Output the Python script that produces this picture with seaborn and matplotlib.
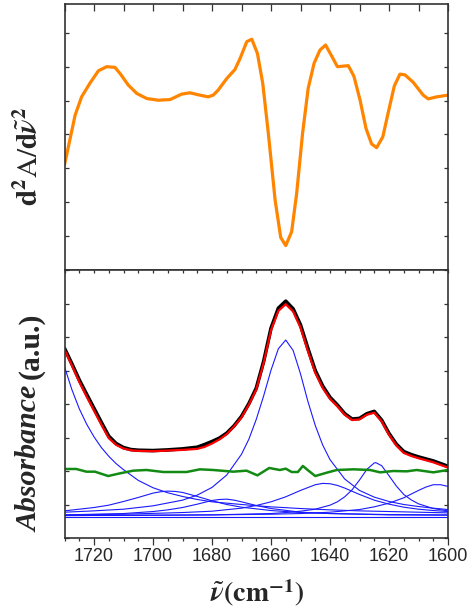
import numpy as np
import pandas as pd
import matplotlib
matplotlib.use("Agg")
import matplotlib.pyplot as plt
import seaborn as sns
from matplotlib.ticker import MultipleLocator, NullFormatter

# ---------------- data ----------------
# second derivative (top panel)
d2_wn = [1730, 1726.4, 1724.2, 1721.4, 1718.5, 1715.7, 1712.9, 1711.0, 1708.4, 1705.5,
         1702.1, 1698.2, 1694.2, 1690.3, 1687.5, 1684.1, 1681.3, 1679.6, 1677.9, 1675.0,
         1672.2, 1670.5, 1668.2, 1666.5, 1664.6, 1662.8, 1660.9, 1658.6, 1656.7, 1655.0,
         1653.0, 1651.3, 1649.3, 1647.4, 1645.4, 1643.4, 1641.5, 1639.4, 1637.5, 1633.8,
         1631.9, 1629.8, 1627.8, 1625.9, 1624.2, 1622.1, 1620.2, 1618.2, 1616.3, 1614.6,
         1611.8, 1608.4, 1606.7, 1603.8, 1600.0]
d2_val = [3.10, 4.57, 5.11, 5.51, 5.88, 6.00, 5.98, 5.78, 5.46, 5.21,
          5.06, 5.01, 5.03, 5.19, 5.23, 5.16, 5.11, 5.16, 5.31, 5.65,
          5.92, 6.24, 6.74, 6.81, 6.39, 5.51, 4.03, 2.06, 0.96, 0.72,
          1.13, 2.26, 4.03, 5.36, 6.10, 6.49, 6.64, 6.31, 6.00, 6.03,
          5.72, 5.01, 4.18, 3.72, 3.61, 3.93, 4.67, 5.43, 5.78, 5.76,
          5.54, 5.16, 5.05, 5.11, 5.16]

# measured absorbance (black) and fit (red)
abs_wn = [1730, 1727.5, 1725, 1722.5, 1720, 1717.5, 1715, 1712.5, 1710, 1707.5,
          1705, 1700, 1695, 1690, 1685, 1682.5, 1680, 1677.5, 1675, 1672.5,
          1670, 1667.5, 1665, 1662.5, 1660, 1657.5, 1655, 1652.5, 1650, 1647.5,
          1645, 1642.5, 1640, 1637.5, 1635, 1632.5, 1630, 1627.5, 1625, 1622.5,
          1620, 1617.5, 1615, 1612.5, 1610, 1605, 1600]
fit_val = [5.62, 5.15, 4.66, 4.22, 3.80, 3.38, 2.98, 2.78, 2.67, 2.62,
           2.60, 2.59, 2.61, 2.63, 2.66, 2.72, 2.82, 2.94, 3.10, 3.33,
           3.60, 3.98, 4.43, 5.22, 6.20, 6.78, 6.98, 6.76, 6.28, 5.58,
           4.93, 4.48, 4.15, 3.93, 3.68, 3.52, 3.54, 3.68, 3.74, 3.48,
           3.08, 2.76, 2.54, 2.45, 2.38, 2.26, 2.10]
meas_val = [5.66, 5.20, 4.72, 4.29, 3.87, 3.45, 3.04, 2.82, 2.70, 2.64,
            2.62, 2.61, 2.63, 2.66, 2.71, 2.79, 2.88, 2.98, 3.13, 3.35,
            3.63, 4.01, 4.47, 5.27, 6.26, 6.86, 7.07, 6.84, 6.36, 5.66,
            5.00, 4.54, 4.20, 3.97, 3.71, 3.55, 3.57, 3.71, 3.78, 3.52,
            3.12, 2.80, 2.58, 2.49, 2.42, 2.30, 2.14]

# residual / baseline (green)
res_wn = [1730, 1726, 1722.6, 1719.7, 1715.2, 1711.2, 1706.7, 1702.2, 1696.5, 1688.6,
          1684.1, 1679.6, 1672.8, 1668.3, 1664.6, 1660.6, 1657.0, 1655.0, 1653.0, 1650.9,
          1649.2, 1647.3, 1645.0, 1641.1, 1637.7, 1632.0, 1626.4, 1623.0, 1618.5, 1614.0,
          1610.6, 1605.0, 1600]
res_val = [2.06, 2.06, 1.98, 1.98, 1.85, 1.93, 2.01, 2.03, 1.97, 1.97,
           2.05, 2.03, 1.98, 2.01, 1.87, 2.09, 2.03, 2.07, 1.97, 1.97,
           2.15, 2.01, 1.85, 1.95, 2.03, 2.05, 2.03, 1.96, 2.00, 1.99,
           2.03, 1.96, 2.03]

# fitted component bands (blue)
b1_wn = [1730, 1727.5, 1725, 1722.5, 1720, 1717.5, 1715, 1712.5, 1710, 1705, 1700, 1695,
         1690, 1685, 1680, 1670, 1660, 1650, 1640, 1630, 1620, 1610, 1600]
b1_val = [5.11, 4.43, 3.86, 3.40, 3.02, 2.70, 2.44, 2.22, 2.04, 1.72, 1.50, 1.35,
          1.24, 1.15, 1.08, 1.00, 0.93, 0.88, 0.84, 0.81, 0.79, 0.77, 0.75]

b2_wn = [1730, 1720, 1715, 1710, 1705, 1700, 1697.5, 1695, 1692.5, 1690, 1685, 1680,
         1675, 1670, 1660, 1650, 1640, 1620, 1600]
b2_val = [0.81, 0.91, 0.98, 1.09, 1.21, 1.34, 1.38, 1.40, 1.39, 1.36, 1.24, 1.11,
          1.00, 0.92, 0.82, 0.76, 0.73, 0.70, 0.69]

b3_wn = [1730, 1710, 1700, 1695, 1690, 1685, 1680, 1677.5, 1675, 1672.5, 1670, 1665,
         1660, 1650, 1640, 1620, 1600]
b3_val = [0.69, 0.73, 0.79, 0.84, 0.91, 1.01, 1.12, 1.15, 1.16, 1.13, 1.08, 0.97,
          0.88, 0.77, 0.73, 0.69, 0.68]

b4_wn = [1730, 1720, 1710, 1700, 1690, 1685, 1680, 1675, 1670, 1667.5, 1665, 1662.5,
         1660, 1657.5, 1655, 1652.5, 1650, 1647.5, 1645, 1642.5, 1640, 1635, 1630,
         1625, 1620, 1615, 1610, 1605, 1600]
b4_val = [0.77, 0.81, 0.86, 0.96, 1.13, 1.28, 1.51, 1.88, 2.50, 2.95, 3.54, 4.24,
          5.01, 5.65, 5.91, 5.60, 4.90, 4.08, 3.36, 2.78, 2.34, 1.76, 1.42, 1.22,
          1.09, 1.00, 0.94, 0.89, 0.85]

b5_wn = [1730, 1710, 1690, 1680, 1670, 1665, 1660, 1655, 1650, 1645, 1642.5, 1640,
         1637.5, 1635, 1630, 1625, 1620, 1615, 1610, 1605, 1600]
b5_val = [0.69, 0.71, 0.76, 0.80, 0.89, 0.97, 1.08, 1.23, 1.42, 1.59, 1.63, 1.62,
          1.57, 1.49, 1.30, 1.13, 1.01, 0.92, 0.86, 0.82, 0.79]

b6_wn = [1730, 1700, 1680, 1670, 1660, 1655, 1650, 1645, 1640, 1637.5, 1635, 1632.5,
         1630, 1627.5, 1625, 1624.5, 1622.5, 1620, 1617.5, 1615, 1612.5, 1610, 1605, 1600]
b6_val = [0.67, 0.68, 0.69, 0.71, 0.73, 0.76, 0.80, 0.86, 0.98, 1.08, 1.23, 1.44,
          1.73, 2.05, 2.24, 2.25, 2.16, 1.86, 1.55, 1.30, 1.14, 1.02, 0.88, 0.81]

b7_wn = [1730, 1700, 1680, 1660, 1650, 1640, 1635, 1630, 1625, 1620, 1615, 1610,
         1607.5, 1605, 1602.5, 1600]
b7_val = [0.67, 0.68, 0.69, 0.71, 0.73, 0.77, 0.81, 0.85, 0.93, 1.04, 1.20, 1.42,
          1.52, 1.59, 1.59, 1.54]

flat_wn = [1730, 1600]
flat_val = [0.64, 0.64]

x_ticks = [1720, 1700, 1680, 1660, 1640, 1620, 1600]

# ---------------- figure ----------------
sns.set_theme(style="ticks")
plt.rcParams["font.family"] = ["Liberation Sans", "DejaVu Sans"]
plt.rcParams["mathtext.fontset"] = "stix"

FW, FH = 475, 613
fig = plt.figure(figsize=(FW / 100, FH / 100), dpi=100)
L, W = 64.5 / FW, (448 - 64.5) / FW
ax_top = fig.add_axes([L, 1 - 270 / FH, W, (270 - 4) / FH])
ax_bot = fig.add_axes([L, 1 - 538 / FH, W, (538 - 270) / FH])

spine_col = "#333333"

# top panel
sns.lineplot(x=d2_wn, y=d2_val, ax=ax_top, color="#ff8400", lw=2.3, sort=False)

# bottom panel
blue = "#1a1aff"
for wn, val in [(flat_wn, flat_val), (b1_wn, b1_val), (b2_wn, b2_val), (b3_wn, b3_val),
                (b4_wn, b4_val), (b5_wn, b5_val), (b6_wn, b6_val), (b7_wn, b7_val)]:
    sns.lineplot(x=wn, y=val, ax=ax_bot, color=blue, lw=0.8, sort=False)
sns.lineplot(x=res_wn, y=res_val, ax=ax_bot, color="#138a13", lw=1.8, sort=False)
sns.lineplot(x=abs_wn, y=meas_val, ax=ax_bot, color="black", lw=2.6, sort=False)
sns.lineplot(x=abs_wn, y=fit_val, ax=ax_bot, color="#ff0000", lw=1.6, sort=False)

for ax in (ax_top, ax_bot):
    ax.set_xlim(1730, 1600)
    ax.set_xlabel("")
    ax.set_ylabel("")
    ax.yaxis.set_major_locator(MultipleLocator(1))
    ax.yaxis.set_major_formatter(NullFormatter())
    ax.tick_params(axis="y", which="both", direction="in", left=True, right=True,
                   length=3, width=0.9, color=spine_col)
    for s in ax.spines.values():
        s.set_visible(True)
        s.set_color(spine_col)
        s.set_linewidth(1.2)

ax_top.set_ylim(0, 7.85)
ax_bot.set_ylim(0, 8)

ax_top.xaxis.set_major_locator(MultipleLocator(20))
ax_top.xaxis.set_minor_locator(MultipleLocator(10))
ax_top.tick_params(axis="x", which="both", direction="in", top=True, bottom=False,
                   labelbottom=False, length=5, width=0.9, color=spine_col)

ax_bot.set_xticks(x_ticks)
ax_bot.set_xticklabels([str(t) for t in x_ticks])
ax_bot.xaxis.set_minor_locator(MultipleLocator(5))
ax_bot.tick_params(axis="x", which="major", direction="out", bottom=True, top=False,
                   length=5, width=0.9, color=spine_col, labelsize=13, pad=2)
ax_bot.tick_params(axis="x", which="minor", direction="out", bottom=True, top=False,
                   length=2.5, width=0.9, color=spine_col)
# inward ticks along the shared border (top of lower panel)
sec = ax_bot.secondary_xaxis("top")
sec.set_xticks(x_ticks)
sec.xaxis.set_minor_locator(MultipleLocator(5))
sec.tick_params(axis="x", which="both", direction="in", length=2.5, width=0.9,
                color=spine_col, labeltop=False)
sec.spines["top"].set_visible(False)

fig.text(30 / FW, 1 - 156 / FH,
         r"$\mathbf{d}^{\mathbf{2}}\mathrm{A}/\mathbf{d}\tilde{\mathbfit{\nu}}^{\mathbf{2}}$",
         rotation=90, ha="center", va="center", fontsize=21)

# bottom y label: bold-italic "Absorbance" + bold "(a.u.)", baseline-aligned
serif = ["Liberation Serif", "DejaVu Serif"]
base_x = 38 / FW
t1 = fig.text(base_x, 0.3, "Absorbance", family=serif, weight="bold", style="italic",
              fontsize=21.5, rotation=90, rotation_mode="anchor", ha="left", va="baseline")
t2 = fig.text(base_x, 0.3, "(a.u.)", family=serif, weight="bold",
              fontsize=21.5, rotation=90, rotation_mode="anchor", ha="left", va="baseline")
fig.canvas.draw()
r = fig.canvas.get_renderer()
h1 = t1.get_window_extent(r).height
h2 = t2.get_window_extent(r).height
gap = 7.0
total = h1 + gap + h2
center_px = FH - 422
start = center_px - total / 2
t1.set_position((base_x, start / FH))
t2.set_position((base_x, (start + h1 + gap) / FH))

fig.text(257 / FW, 1 - 593 / FH,
         r"$\tilde{\mathbfit{\nu}}\mathbf{(cm}^{\mathbf{-1}}\mathbf{)}$",
         ha="center", va="center", fontsize=20)

fig.savefig("out.png", dpi=100)
